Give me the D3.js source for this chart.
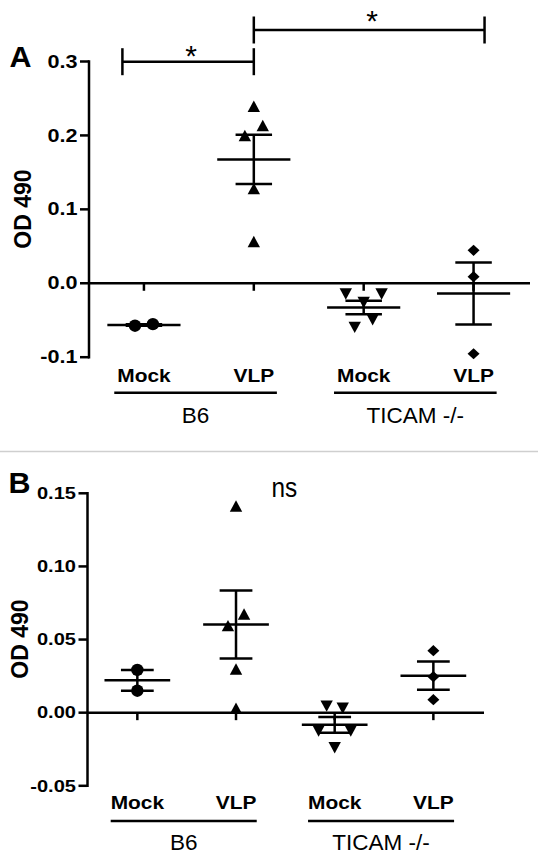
<!DOCTYPE html>
<html><head><meta charset="utf-8">
<script src="https://cdn.jsdelivr.net/npm/d3@7"></script>
<style>body{margin:0;background:#fff} svg{display:block} text{font-family:"Liberation Sans",Arial,Helvetica,sans-serif;fill:#000}</style>
</head><body><svg id="c" width="538" height="857"></svg>
<script>
// ---------- data ----------
const conditions = ["Mock", "VLP"];
const strains = ["B6", "TICAM -/-"];
const categories = ["B6 Mock", "B6 VLP", "TICAM Mock", "TICAM VLP"];

// Panel A (OD 490)
const a_B6_Mock = [-0.0574, -0.0553];
const a_B6_VLP = [0.2395, 0.2, 0.2135, 0.128, 0.0565];
const a_TICAM_Mock = [-0.0145, -0.026, -0.0145, -0.0597, -0.0493];
const a_TICAM_VLP = [0.0446, 0.0089, -0.0953];
const a_ticks = [-0.1, 0, 0.1, 0.2, 0.3];
const a_tickLabels = ["-0.1", "0.0", "0.1", "0.2", "0.3"];
const a_sig = [{from: "B6 Mock", to: "B6 VLP", label: "*"}, {from: "B6 VLP", to: "TICAM VLP", label: "*"}];

// Panel B (OD 490)
const b_B6_Mock = [0.0292, 0.0150];
const b_B6_VLP = [0.1413, 0.0595, 0.0675, 0.0299, 0.0030];
const b_TICAM_Mock = [0.0045, 0.003, -0.0125, -0.024, -0.0125];
const b_TICAM_VLP = [0.0424, 0.0246, 0.0089];
const b_ticks = [-0.05, 0, 0.05, 0.10, 0.15];
const b_tickLabels = ["-0.05", "0.00", "0.05", "0.10", "0.15"];
const b_sigLabel = "ns";

// ---------- drawing ----------
const svg = d3.select("#c");
const SW = 2.5;

function txt(g, s, x, y, o) {
  return g.append("text").text(s)
    .attr("transform", `translate(${x},${y}) scale(${o.sx || 1},1)`)
    .attr("text-anchor", o.anchor || "start")
    .attr("font-size", o.size)
    .attr("font-weight", o.weight || "normal");
}

function swarm(vals, y, spacing) {
  const idx = vals.map((v, i) => i).sort((i, j) => vals[j] - vals[i]);
  const rows = []; let cur = null;
  idx.forEach(i => {
    const py = y(vals[i]);
    if (cur && py - cur.top < 18) cur.m.push(i);
    else { cur = {top: py, m: [i]}; rows.push(cur); }
  });
  const off = new Array(vals.length).fill(0);
  rows.forEach(r => {
    r.m.sort((a, b) => a - b);
    const n = r.m.length;
    r.m.forEach((i, k) => off[i] = (k - (n - 1) / 2) * spacing);
  });
  return off;
}

const shapes = [
  (g) => g.append("circle").attr("r", 6.2),
  (g) => g.append("path").attr("d", "M0,-5.7L6.2,5.7L-6.2,5.7Z"),
  (g) => g.append("path").attr("d", "M-6.2,-5.7L6.2,-5.7L0,5.7Z"),
  (g) => g.append("path").attr("d", "M0,-5.6L6,0L0,5.6L-6,0Z")
];

function panel(cfg) {
  const g = svg.append("g");
  const y = d3.scaleLinear().domain(d3.extent(cfg.ticks)).range(cfg.yRange);
  const x = d3.scaleBand().domain(categories).range(cfg.xRange);
  const bw = x.bandwidth();
  const cx = c => x(c) + bw / 2;
  const line = (x1, y1, x2, y2) => g.append("line").attr("x1", x1).attr("y1", y1).attr("x2", x2).attr("y2", y2)
    .attr("stroke", "#000").attr("stroke-width", SW);

  // y axis
  line(cfg.axisX, y(cfg.ticks[cfg.ticks.length - 1]) - SW / 2, cfg.axisX, y(cfg.ticks[0]) + SW / 2);
  cfg.ticks.forEach((t, i) => {
    line(cfg.axisX - 9, y(t), cfg.axisX, y(t));
    txt(g, cfg.tickLabels[i], cfg.axisX - 11.5, y(t) + cfg.tickFs * 0.34, {size: cfg.tickFs, weight: "bold", anchor: "end", sx: cfg.tickSx});
  });
  // zero line + category ticks
  line(cfg.axisX, y(0), cfg.zeroEnd, y(0));
  categories.forEach(c => line(cx(c), y(0), cx(c), y(0) + 7.5));

  // series
  cfg.series.forEach((vals, si) => {
    const c = categories[si];
    const m = d3.mean(vals), se = d3.deviation(vals) / Math.sqrt(vals.length);
    line(cx(c), y(m + se), cx(c), y(m - se));
    line(cx(c) - 0.166 * bw, y(m + se), cx(c) + 0.166 * bw, y(m + se));
    line(cx(c) - 0.166 * bw, y(m - se), cx(c) + 0.166 * bw, y(m - se));
    line(cx(c) - 0.333 * bw, y(m), cx(c) + 0.333 * bw, y(m));
    const off = swarm(vals, y, 0.163 * bw);
    vals.forEach((v, i) => {
      const pg = g.append("g").attr("transform", `translate(${cx(c) + off[i]},${y(v)})`);
      shapes[si](pg).attr("fill", "#000");
    });
  });

  // category labels, group lines, strain labels
  categories.forEach((c, i) => {
    txt(g, conditions[i % 2], cx(c), cfg.condY, {size: 19, weight: "bold", anchor: "middle", sx: 1.1});
  });
  strains.forEach((s, k) => {
    const x1 = cx(categories[2 * k]) - 0.27 * bw, x2 = cx(categories[2 * k + 1]) + 0.21 * bw;
    line(x1, cfg.lineY, x2, cfg.lineY);
    txt(g, s, (x1 + x2) / 2, cfg.strainY, {size: 22.5, anchor: "middle"});
  });

  // panel letter, y title
  txt(g, cfg.letter, cfg.letterX, cfg.letterY, {size: 29, weight: "bold", sx: 1.05});
  g.append("text").text("OD 490").attr("transform", `translate(${cfg.odX},${cfg.odY}) rotate(-90)`)
    .attr("text-anchor", "middle").attr("font-size", 23).attr("font-weight", "bold");
  return {g, x, y, cx, bw, line};
}

// Panel A
const A = panel({
  letter: "A", letterX: 9.5, letterY: 67,
  series: [a_B6_Mock, a_B6_VLP, a_TICAM_Mock, a_TICAM_VLP],
  ticks: a_ticks, tickLabels: a_tickLabels, tickFs: 18, tickSx: 1.2,
  axisX: 89, yRange: [357.2, 61.5], xRange: [89, 528.5], zeroEnd: 530,
  odX: 30.5, odY: 209, condY: 381.7, lineY: 392.7, strainY: 422.7
});
// significance bars for A
const topY = A.y(a_ticks[a_ticks.length - 1]);
a_sig.forEach((s, k) => {
  const by = k === 0 ? topY + 0.2 : topY - 31.5;
  const x1 = A.cx(s.from) + (k === 0 ? -0.196 * A.bw : 0);
  const x2 = A.cx(s.to) + (k === 0 ? 0 : 0.1 * A.bw);
  A.line(x1, by, x2, by);
  A.line(x1, by - 13.5, x1, by + 13.5);
  A.line(x2, by - 13.5, x2, by + 13.5);
  txt(A.g, s.label, (x1 + x2) / 2 + 3, by + (k === 0 ? 4.5 : 1), {size: 30, anchor: "middle"});
});

// separator
svg.append("line").attr("x1", 0).attr("x2", 538).attr("y1", 451.5).attr("y2", 451.5)
  .attr("stroke", "#cfcfcf").attr("stroke-width", 1.5);

// Panel B
const B = panel({
  letter: "B", letterX: 8.5, letterY: 493.3,
  series: [b_B6_Mock, b_B6_VLP, b_TICAM_Mock, b_TICAM_VLP],
  ticks: b_ticks, tickLabels: b_tickLabels, tickFs: 17, tickSx: 1.18,
  axisX: 87.5, yRange: [785.8, 493.3], xRange: [88, 482.7], zeroEnd: 484,
  odX: 27.5, odY: 639, condY: 809.3, lineY: 821, strainY: 850
});
txt(B.g, b_sigLabel, 271.5, 496.7, {size: 28, sx: 0.87});
</script></body></html>
